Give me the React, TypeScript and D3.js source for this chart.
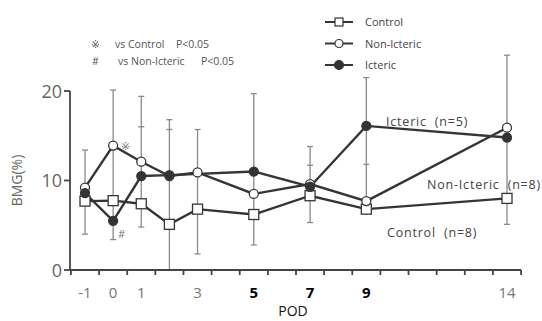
import React from 'react'
import * as d3 from 'd3'

const days = [-1, 0, 1, 2, 3, 5, 7, 9, 14]
const controlValues = [7.7, 7.75, 7.4, 5.1, 6.8, 6.2, 8.3, 6.8, 8.0]
const nonIctericValues = [9.2, 13.9, 12.1, 10.5, 10.9, 8.5, 9.6, 7.7, 15.9]
const ictericDays = [-1, 0, 1, 2, 5, 7, 9, 14]
const ictericValues = [8.6, 5.5, 10.5, 10.6, 11.0, 9.3, 16.1, 14.8]

// error bar ends [day, low, high]
const errorBars: Array<[number, number, number]> = [
  [-1, 4.0, 13.4],
  [0, 3.4, 20.1],
  [1, 4.8, 19.4],
  [2, 0, 16.8],
  [3, 1.8, 15.7],
  [5, 2.8, 19.7],
  [7, 5.3, 13.8],
  [9, 6.8, 21.5],
  [14, 5.1, 24.0],
]
// extra cap marks on the bars
const extraCaps: Array<[number, number]> = [
  [1, 16.0],
  [2, 15.7],
  [7, 11.7],
  [9, 11.8],
]

const xTickLabels = [-1, 0, 1, 3, 5, 7, 9, 14]
const boldLabels = [5, 7, 9]
const yTickValues = [0, 10, 20]

const W = 542
const H = 321

const App: React.FC = () => {
  const x = d3.scaleLinear().domain([-1, 14]).range([85, 507])
  const y = d3.scaleLinear().domain([0, 20]).range([270, 91])
  const lineColor = '#353535'
  const barColor = '#8a8a8a'
  const font = '"Open Sans", "DejaVu Sans", sans-serif'

  const line = d3
    .line<[number, number]>()
    .x((d) => x(d[0]))
    .y((d) => y(d[1]))

  const controlPts = days.map((d, i) => [d, controlValues[i]] as [number, number])
  const nonPts = days.map((d, i) => [d, nonIctericValues[i]] as [number, number])
  const ictPts = ictericDays.map((d, i) => [d, ictericValues[i]] as [number, number])

  const minorTicks = d3.range(-1.5, 14.51, 1)

  return (
    <svg
      width={W}
      height={H}
      style={{ position: 'absolute', left: 0, top: 0, background: '#fff' }}
      fontFamily={font}
    >
      {/* error bars */}
      <g stroke={barColor} strokeWidth={1.3}>
        {errorBars.map(([d, lo, hi], i) => (
          <g key={i}>
            <line x1={x(d)} x2={x(d)} y1={y(lo)} y2={y(hi)} />
            <line x1={x(d) - 3} x2={x(d) + 3} y1={y(lo)} y2={y(lo)} />
            <line x1={x(d) - 3} x2={x(d) + 3} y1={y(hi)} y2={y(hi)} />
          </g>
        ))}
        {extraCaps.map(([d, v], i) => (
          <line key={i} x1={x(d) - 3} x2={x(d) + 3} y1={y(v)} y2={y(v)} />
        ))}
      </g>

      {/* axes */}
      <g stroke="#444" strokeWidth={1.8} fill="none">
        <line x1={70} x2={70} y1={y(0)} y2={y(20)} />
        {yTickValues.map((v) => (
          <line key={v} x1={64} x2={70} y1={y(v)} y2={y(v)} />
        ))}
        <line x1={70} x2={x(14.5)} y1={y(0)} y2={y(0)} />
        {minorTicks.map((t) => (
          <line key={t} x1={x(t)} x2={x(t)} y1={y(0)} y2={y(0) + 5} />
        ))}
      </g>
      <g fill="#666" fontSize={18} textAnchor="end">
        {yTickValues.map((v) => (
          <text key={v} x={62} y={y(v) + 6.5}>
            {v}
          </text>
        ))}
      </g>
      <g fontSize={15} textAnchor="middle">
        {xTickLabels.map((v) => (
          <text
            key={v}
            x={x(v)}
            y={298}
            fill={boldLabels.includes(v) ? '#000' : '#777'}
            fontWeight={boldLabels.includes(v) ? 'bold' : 'normal'}
          >
            {v}
          </text>
        ))}
      </g>
      <text x={293} y={316} fontSize={14} textAnchor="middle" fill="#111">
        POD
      </text>
      <text
        transform={`translate(22,${y(10)}) rotate(-90)`}
        fontSize={14}
        textAnchor="middle"
        fill="#666"
      >
        BMG(%)
      </text>

      {/* series lines */}
      <g fill="none" stroke={lineColor} strokeWidth={2.4}>
        <path d={line(controlPts) ?? ''} />
        <path d={line(nonPts) ?? ''} />
        <path d={line(ictPts) ?? ''} />
      </g>

      {/* markers */}
      {controlPts.map(([d, v], i) => (
        <rect
          key={`c${i}`}
          x={x(d) - 5}
          y={y(v) - 5}
          width={10}
          height={10}
          fill="#fff"
          stroke={lineColor}
          strokeWidth={1.3}
        />
      ))}
      {nonPts.map(([d, v], i) => (
        <circle key={`n${i}`} cx={x(d)} cy={y(v)} r={4.5} fill="#fff" stroke={lineColor} strokeWidth={1.3} />
      ))}
      {ictPts.map(([d, v], i) => (
        <circle key={`i${i}`} cx={x(d)} cy={y(v)} r={4.5} fill="#333" stroke={lineColor} strokeWidth={1.3} />
      ))}

      {/* significance marks */}
      <text x={121} y={150} fontSize={11} fill="#777">
        ※
      </text>
      <text x={118} y={238} fontSize={11} fill="#777">
        #
      </text>

      {/* note */}
      <g fontSize={10.5} fill="#555">
        <text x={91} y={48}>※</text>
        <text x={115} y={48}>vs Control</text>
        <text x={176} y={48}>P&lt;0.05</text>
        <text x={92} y={65}>#</text>
        <text x={118} y={65}>vs Non-Icteric</text>
        <text x={201} y={65}>P&lt;0.05</text>
      </g>

      {/* legend */}
      <g stroke={lineColor} strokeWidth={2}>
        <line x1={325} x2={353} y1={22} y2={22} />
        <line x1={325} x2={353} y1={43.5} y2={43.5} />
        <line x1={325} x2={353} y1={65} y2={65} />
      </g>
      <rect x={335} y={18} width={8} height={8} fill="#fff" stroke={lineColor} strokeWidth={1.2} />
      <circle cx={339} cy={43.5} r={4} fill="#fff" stroke={lineColor} strokeWidth={1.2} />
      <circle cx={339} cy={65} r={4.5} fill="#333" stroke={lineColor} strokeWidth={1.2} />
      <g fontSize={11} fill="#444">
        <text x={365} y={26}>Control</text>
        <text x={365} y={47.5}>Non-Icteric</text>
        <text x={365} y={69}>Icteric</text>
      </g>

      {/* series labels */}
      <g fontSize={12.5} fill="#444" letterSpacing={0.8} wordSpacing={4}>
        <text x={386} y={126}>Icteric (n=5)</text>
        <text x={427} y={189}>Non-Icteric (n=8)</text>
        <text x={387} y={237}>Control (n=8)</text>
      </g>
    </svg>
  )
}

export default App
